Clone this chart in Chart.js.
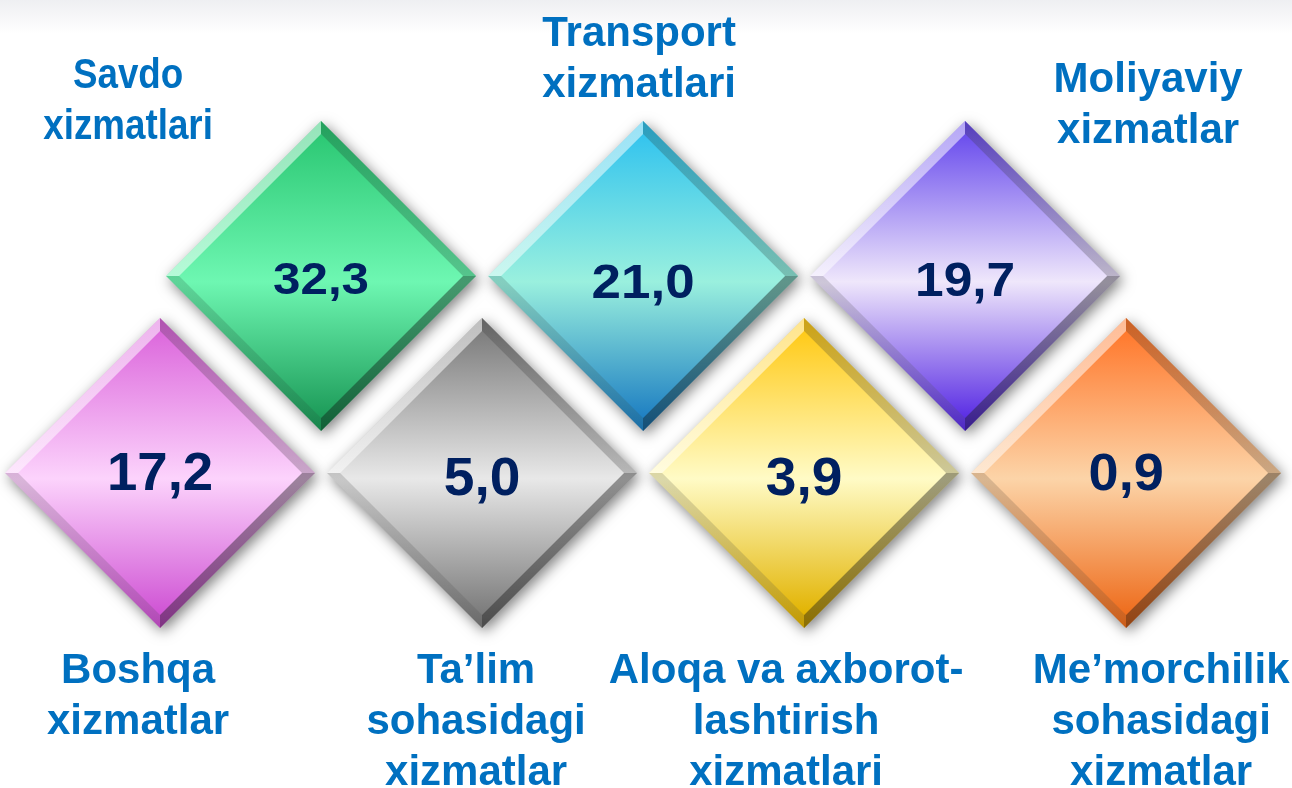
<!DOCTYPE html>
<html>
<head>
<meta charset="utf-8">
<script src="https://cdn.jsdelivr.net/npm/chart.js@4.4.1/dist/chart.umd.min.js"></script>
<style>
  html, body { margin: 0; padding: 0; background: #fff; }
  #wrap { width: 1292px; height: 788px; position: relative; }
</style>
</head>
<body>
<div id="wrap"><canvas id="chart"></canvas></div>
<script>
// service categories (label lines) and their shares, %
const categories = [
  ['Savdo', 'xizmatlari'],
  ['Transport', 'xizmatlari'],
  ['Moliyaviy', 'xizmatlar'],
  ['Boshqa', 'xizmatlar'],
  ['Ta’lim', 'sohasidagi', 'xizmatlar'],
  ['Aloqa va axborot-', 'lashtirish', 'xizmatlari'],
  ['Me’morchilik', 'sohasidagi', 'xizmatlar']
]
const shares = [32.3, 21.0, 19.7, 17.2, 5.0, 3.9, 0.9]

// diamond colours: top / middle / bottom of the vertical gradient
const topColors    = ['#2cc874', '#33c4ee', '#6a4ded', '#dc68dc', '#7d7d7d', '#ffca18', '#ff782c']
const midColors    = ['#6ef7b2', '#9af0de', '#efe7fb', '#fcd3fc', '#e8e8e8', '#fffbc6', '#fcd4a8']
const bottomColors = ['#1c9a58', '#1e7fc2', '#5a2de4', '#cf52d4', '#7a7a7a', '#e2b300', '#ee6c1c']

// layout: first three sit in the upper row between the lower four
const colOf = i => i < 3 ? i + 0.5 : i - 3
const rowOf = i => i < 3 ? 1 : 0

const labelDx       = [-193, -4, 183, -22, -6, -18, 35]
const labelBaseline = [-188, -230, -184, 210, 210, 210, 210]
const labelStretch  = [0.875, 1, 1, 1, 1, 1, 1]
const valueSize     = [44, 49, 49, 53, 53, 53, 51]
const valueStretch  = [1.12, 1.08, 1.05, 1.03, 1.04, 1.04, 1.06]
const valueDy       = [2, 4, 2, -2, 3, 3, -1]

const OUTER = 155
const INNER = 142

const points = shares.map((v, i) => ({ x: colOf(i), y: rowOf(i) }))

function centerOf(ctx) {
  const chart = ctx.chart
  const i = ctx.dataIndex
  if (!chart.scales || !chart.scales.x || !chart.scales.y) return null
  const x = chart.scales.x.getPixelForValue(colOf(i))
  const y = chart.scales.y.getPixelForValue(rowOf(i))
  if (!isFinite(x) || !isFinite(y)) return null
  return { x, y }
}

function faceFill(r) {
  return ctx => {
    if (ctx.type !== 'data') return '#cccccc'
    const i = ctx.dataIndex
    const c = centerOf(ctx)
    if (!c) return midColors[i]
    const g = ctx.chart.ctx.createLinearGradient(0, c.y - r, 0, c.y + r)
    g.addColorStop(0, topColors[i])
    g.addColorStop(0.52, midColors[i])
    g.addColorStop(1, bottomColors[i])
    return g
  }
}

function bevelShade(ctx) {
  if (ctx.type !== 'data') return 'rgba(0,0,0,0)'
  const c = centerOf(ctx)
  if (!c) return 'rgba(0,0,0,0.2)'
  const cx = ctx.chart.ctx
  if (cx.createConicGradient) {
    const g = cx.createConicGradient(0, c.x, c.y)
    // bottom-right, bottom-left, top-left, top-right facets
    g.addColorStop(0, 'rgba(0,0,0,0.38)')
    g.addColorStop(0.25, 'rgba(0,0,0,0.38)')
    g.addColorStop(0.25, 'rgba(0,0,0,0.14)')
    g.addColorStop(0.5, 'rgba(0,0,0,0.14)')
    g.addColorStop(0.5, 'rgba(255,255,255,0.5)')
    g.addColorStop(0.75, 'rgba(255,255,255,0.5)')
    g.addColorStop(0.75, 'rgba(0,0,0,0.2)')
    g.addColorStop(1, 'rgba(0,0,0,0.2)')
    return g
  }
  const g = cx.createLinearGradient(c.x - OUTER / 2, c.y - OUTER / 2, c.x + OUTER / 2, c.y + OUTER / 2)
  g.addColorStop(0, 'rgba(255,255,255,0.5)')
  g.addColorStop(1, 'rgba(0,0,0,0.4)')
  return g
}

const backdrop = {
  id: 'backdrop',
  beforeDraw(chart) {
    const { ctx, width, height } = chart
    const g = ctx.createLinearGradient(0, 0, 0, 34)
    g.addColorStop(0, '#eeeff2')
    g.addColorStop(1, '#ffffff')
    ctx.save()
    ctx.fillStyle = g
    ctx.fillRect(0, 0, width, height)
    ctx.restore()
  }
}

const diamondShadow = {
  id: 'diamondShadow',
  beforeDatasetDraw(chart, args) {
    if (args.index !== 0) return
    const ctx = chart.ctx
    ctx.save()
    ctx.shadowColor = 'rgba(0,0,0,0.5)'
    ctx.shadowBlur = 14
    ctx.shadowOffsetX = 3
    ctx.shadowOffsetY = 4
  },
  afterDatasetDraw(chart, args) {
    if (args.index !== 0) return
    chart.ctx.restore()
  }
}

const diamondLabels = {
  id: 'diamondLabels',
  afterDatasetsDraw(chart) {
    const ctx = chart.ctx
    const xs = chart.scales.x, ys = chart.scales.y
    ctx.save()
    shares.forEach((v, i) => {
      const px = xs.getPixelForValue(colOf(i))
      const py = ys.getPixelForValue(rowOf(i))

      // value in the middle of the diamond
      const size = valueSize[i]
      ctx.save()
      ctx.translate(px, py + valueDy[i])
      ctx.scale(valueStretch[i], 1)
      ctx.font = `bold ${size}px "Liberation Sans", Arial, sans-serif`
      ctx.fillStyle = '#002060'
      ctx.textAlign = 'center'
      ctx.textBaseline = 'alphabetic'
      ctx.fillText(v.toFixed(1).replace('.', ','), 0, size * 0.36)
      ctx.restore()

      // category name
      ctx.save()
      ctx.translate(px + labelDx[i], py + labelBaseline[i])
      ctx.scale(labelStretch[i], 1)
      ctx.font = 'bold 42px "Liberation Sans", Arial, sans-serif'
      ctx.fillStyle = '#0070c0'
      ctx.textAlign = 'center'
      ctx.textBaseline = 'alphabetic'
      categories[i].forEach((line, k) => ctx.fillText(line, 0, k * 51))
      ctx.restore()
    })
    ctx.restore()
  }
}

const diamond = {
  pointStyle: 'rectRot',
  pointBorderWidth: 0,
  clip: false
}

const chart = new Chart(document.getElementById('chart').getContext('2d'), {
  type: 'scatter',
  data: {
    datasets: [
      { ...diamond, label: 'base', data: points, pointRadius: OUTER, backgroundColor: faceFill(OUTER), order: 3 },
      { ...diamond, label: 'bevel', data: points, pointRadius: OUTER, backgroundColor: bevelShade, order: 2 },
      { ...diamond, label: 'face', data: points, pointRadius: INNER, backgroundColor: faceFill(INNER), order: 1 }
    ]
  },
  options: {
    responsive: true,
    maintainAspectRatio: false,
    animation: false,
    events: [],
    layout: { padding: 0, autoPadding: false },
    scales: {
      x: { type: 'linear', min: -0.497, max: 3.515, display: false },
      y: { type: 'linear', min: -1.599, max: 2.401, display: false }
    },
    plugins: {
      legend: { display: false },
      tooltip: { enabled: false }
    }
  },
  plugins: [backdrop, diamondShadow, diamondLabels]
})
</script>
</body>
</html>
